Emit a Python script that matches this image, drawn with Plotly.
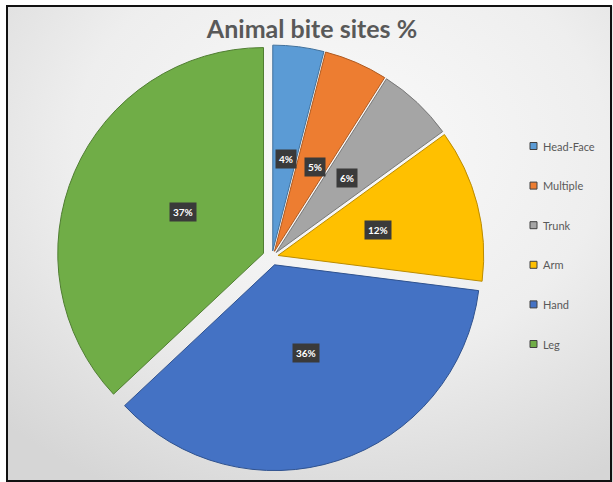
import math, base64
import plotly.graph_objects as go

# ---- data ----
categories = ["Head-Face", "Multiple", "Trunk", "Arm", "Hand", "Leg"]
values = [4, 5, 6, 12, 36, 37]
colors = ["#5B9BD5", "#ED7D31", "#A5A5A5", "#FFC000", "#4472C4", "#70AD47"]
edge_colors = ["#41719C", "#AE5A21", "#787878", "#BC8C00", "#2F528F", "#507E32"]
pulls = [0.03, 0.03, 0.03, 0.03, 0.04, 0.045]
title_text = "Animal bite sites %"

W, H = 613, 482
cx, cy = 272, 257          # pie centre in pixels
R = 215                    # half-size of pie domain in pixels

fig = go.Figure()
fig.add_trace(go.Pie(
    labels=categories, values=values, sort=False, direction="clockwise",
    rotation=0, pull=pulls, textinfo="none", hoverinfo="label+percent",
    marker=dict(colors=colors, line=dict(color=edge_colors, width=1)),
    domain=dict(x=[(cx - R) / W, (cx + R) / W], y=[1 - (cy + R) / H, 1 - (cy - R) / H]),
    showlegend=False,
))

# percentage labels in dark boxes, placed from the data
r = R / (1 + max(pulls))
total = sum(values)
cum = 0
for v, p in zip(values, pulls):
    mid = (cum + v / 2) / total * 2 * math.pi
    cum += v
    d = (0.5 + p) * r
    px = cx + d * math.sin(mid)
    py = cy - d * math.cos(mid)
    fig.add_annotation(x=px / W, y=1 - py / H, xref="paper", yref="paper",
                       text=f"<b>{round(v / total * 100)}%</b>", showarrow=False,
                       font=dict(color="white", size=10, family="Lato"),
                       bgcolor="#3a3a3a", borderpad=3)

# manual legend
for i, (lab, c, ec) in enumerate(zip(categories, colors, edge_colors)):
    y = 146 + 39.6 * i
    fig.add_shape(type="rect", xref="paper", yref="paper",
                  x0=530 / W, x1=537 / W, y0=1 - (y + 3.5) / H, y1=1 - (y - 3.5) / H,
                  fillcolor=c, line=dict(color="#404040", width=1))
    fig.add_annotation(x=541 / W, y=1 - y / H, xref="paper", yref="paper",
                       text=lab, showarrow=False, xanchor="left", yanchor="middle",
                       font=dict(color="#595959", size=11, family="Lato"))

# frame
fig.add_shape(type="rect", xref="paper", yref="paper",
              x0=7 / W, x1=611 / W, y0=1 - 481 / H, y1=1 - 6 / H,
              line=dict(color="#111111", width=2), fillcolor="rgba(0,0,0,0)")

svg = f'''<svg xmlns="http://www.w3.org/2000/svg" width="{W}" height="{H}">
<defs><radialGradient id="g" cx="0.55" cy="0.3" r="0.8">
<stop offset="0" stop-color="rgb(250,250,250)"/>
<stop offset="0.55" stop-color="rgb(238,238,238)"/>
<stop offset="1" stop-color="rgb(214,214,214)"/>
</radialGradient></defs>
<rect width="{W}" height="{H}" fill="white"/>
<rect x="7" y="6" width="{W-7}" height="{H-6}" fill="url(#g)"/>
</svg>'''
uri = "data:image/svg+xml;base64," + base64.b64encode(svg.encode()).decode()

fig.update_layout(
    width=W, height=H, margin=dict(l=0, r=0, t=0, b=0),
    paper_bgcolor="white", plot_bgcolor="rgba(0,0,0,0)",
    images=[dict(source=uri, xref="paper", yref="paper", x=0, y=1, sizex=1, sizey=1,
                 xanchor="left", yanchor="top", sizing="stretch", layer="below")],
    title=dict(text=f"<b>{title_text}</b>", x=312 / W, xanchor="center",
               y=1 - 29 / H, yanchor="middle",
               font=dict(size=25, color="#595959", family="Lato")),
)

fig.write_html("out.html")
